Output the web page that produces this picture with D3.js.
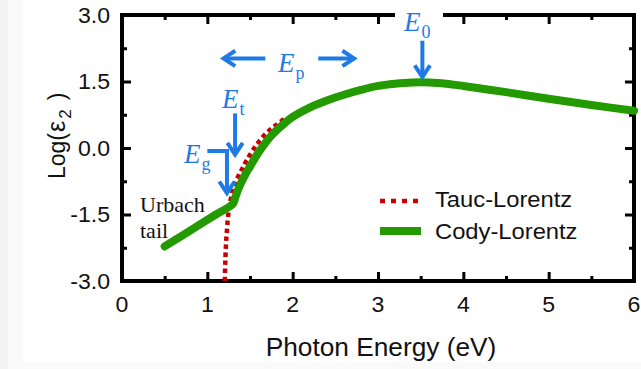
<!DOCTYPE html>
<html>
<head>
<meta charset="utf-8">
<script src="https://cdn.jsdelivr.net/npm/d3@7"></script>
<style>
  html, body { margin: 0; padding: 0; background: #f4f4f4; }
  svg { display: block; }
</style>
</head>
<body>
<svg id="chart" width="641" height="369"></svg>
<script>
// Cody-Lorentz model, log(eps2) vs photon energy (eV)
const energyCL = [0.5, 0.7, 0.9, 1.1, 1.3, 1.33, 1.38, 1.45, 1.5, 1.6, 1.75, 1.9, 2.0, 2.2, 2.4, 2.6, 2.8, 3.0, 3.2, 3.4, 3.6, 3.8, 4.0, 4.5, 5.0, 5.5, 6.0];
const logCL    = [-2.22, -1.98, -1.74, -1.5, -1.26, -1.1, -0.85, -0.58, -0.42, -0.1, 0.28, 0.55, 0.7, 0.91, 1.07, 1.2, 1.31, 1.4, 1.45, 1.48, 1.48, 1.45, 1.4, 1.26, 1.11, 0.97, 0.84];

// Tauc-Lorentz model (diverges below the gap)
const energyTL = [1.205, 1.21, 1.218, 1.23, 1.245, 1.27, 1.3, 1.33, 1.4, 1.46, 1.58, 1.7, 1.8, 1.9];
const logTL    = [-3.0, -2.6, -2.2, -1.85, -1.5, -1.2, -0.95, -0.77, -0.5, -0.28, 0.08, 0.35, 0.51, 0.65];

const seriesNames = ["Tauc-Lorentz", "Cody-Lorentz"];

const xMajor = [0, 1, 2, 3, 4, 5, 6];
const xMinor = [0.5, 1.5, 2.5, 3.5, 4.5, 5.5];
const yMajor = [-3.0, -1.5, 0.0, 1.5, 3.0];
const yMinor = [-2.25, -0.75, 0.75, 2.25];

const svg = d3.select("#chart");
const W = 641, H = 369;
const margin = { left: 122, right: 7, top: 15, bottom: 88 };

const BLUE = "#1f7ae6", GREEN = "#239a00", RED = "#c80000";
const SX = 1.05; // slight horizontal stretch of the lettering

// paper background
svg.append("rect").attr("x", 8).attr("y", 0).attr("width", W - 8).attr("height", H).attr("fill", "#fafafa");
svg.append("rect").attr("x", 23).attr("y", 0).attr("width", W - 23).attr("height", 362).attr("fill", "#ffffff");

const x = d3.scaleLinear().domain([0, 6]).range([margin.left, W - margin.right]);
const y = d3.scaleLinear().domain([-3, 3]).range([H - margin.bottom, margin.top]);

const x0 = x(0), x1 = x(6), yTop = y(3), yBot = y(-3);

// ticks (inward)
function tickAxis(gen, vals, size, tx, ty) {
  const g = svg.append("g").attr("transform", `translate(${tx},${ty})`)
    .call(gen.tickValues(vals).tickSize(-size).tickFormat(""));
  g.select(".domain").remove();
  g.selectAll(".tick line").attr("stroke", "#000").attr("stroke-width", 3);
  return g;
}
// top-frame gap where the E0 label sits
const gapL = 393, gapR = 445;
const topVals = v => v.filter(d => x(d) < gapL || x(d) > gapR);

tickAxis(d3.axisBottom(x), xMajor, 9, 0, yBot);
tickAxis(d3.axisBottom(x), xMinor, 5, 0, yBot);
tickAxis(d3.axisTop(x), topVals(xMajor), 9, 0, yTop);
tickAxis(d3.axisTop(x), topVals(xMinor), 5, 0, yTop);
tickAxis(d3.axisLeft(y), yMajor, 9, x0, 0);
tickAxis(d3.axisLeft(y), yMinor, 5, x0, 0);
tickAxis(d3.axisRight(y), yMajor, 9, x1, 0);
tickAxis(d3.axisRight(y), yMinor, 5, x1, 0);

// frame
const frame = svg.append("g").attr("stroke", "#000").attr("stroke-width", 4).attr("fill", "none").attr("stroke-linecap", "square");
frame.append("line").attr("x1", x0).attr("x2", x1).attr("y1", yBot).attr("y2", yBot);
frame.append("line").attr("x1", x0).attr("x2", x0).attr("y1", yTop).attr("y2", yBot);
frame.append("line").attr("x1", x1).attr("x2", x1).attr("y1", yTop).attr("y2", yBot);
frame.append("line").attr("x1", x0).attr("x2", gapL).attr("y1", yTop).attr("y2", yTop);
frame.append("line").attr("x1", gapR).attr("x2", x1).attr("y1", yTop).attr("y2", yTop);

// tick labels (plain hyphen for negatives)
const fmtY = v => d3.format(".1f")(v).replace("\u2212", "-");
xMajor.forEach(v => {
  svg.append("text").attr("transform", `translate(${x(v)},${yBot + 31}) scale(${SX},1)`)
    .attr("text-anchor", "middle").attr("font-family", "Liberation Sans, Arial, sans-serif")
    .attr("font-size", 22).attr("fill", "#111").text(v);
});
yMajor.forEach(v => {
  svg.append("text").attr("transform", `translate(${x0 - 12},${y(v) + 7.5}) scale(${SX},1)`)
    .attr("text-anchor", "end").attr("font-family", "Liberation Sans, Arial, sans-serif")
    .attr("font-size", 22).attr("fill", "#111").text(fmtY(v));
});

// axis titles
svg.append("text").attr("transform", `translate(${(x0 + x1) / 2 + 3},${yBot + 75}) scale(${SX},1)`)
  .attr("text-anchor", "middle").attr("font-family", "Liberation Sans, Arial, sans-serif")
  .attr("font-size", 25).attr("fill", "#111").text("Photon Energy (eV)");
const yt = svg.append("text").attr("transform", `translate(65,179) rotate(-90)`)
  .attr("text-anchor", "start").attr("font-family", "Liberation Sans, Arial, sans-serif")
  .attr("font-size", 23).attr("fill", "#111");
yt.append("tspan").text("Log(");
yt.append("tspan").attr("font-size", 25).attr("dx", 1).text("ε");
yt.append("tspan").attr("font-size", 17).attr("dx", 2).attr("dy", 6).text("2");
yt.append("tspan").attr("dx", 9).attr("dy", -6).text(")");

// curves
const line = d3.line().x(d => x(d[0])).y(d => y(d[1]));
const tl = d3.zip(energyTL, logTL);
const cl = d3.zip(energyCL, logCL);

svg.append("path").datum(tl).attr("d", line.curve(d3.curveCatmullRom.alpha(0.5))(tl))
  .attr("fill", "none").attr("stroke", RED).attr("stroke-width", 4.5).attr("stroke-dasharray", "4.5,3.5");
svg.append("path").datum(cl).attr("d", line.curve(d3.curveCatmullRom.alpha(0.5))(cl))
  .attr("fill", "none").attr("stroke", GREEN).attr("stroke-width", 8).attr("stroke-linecap", "round").attr("stroke-linejoin", "round");

// legend
const lg = svg.append("g");
lg.append("line").attr("x1", 380).attr("x2", 419).attr("y1", 201).attr("y2", 201)
  .attr("stroke", RED).attr("stroke-width", 4.5).attr("stroke-dasharray", "5,6");
lg.append("line").attr("x1", 380).attr("x2", 421).attr("y1", 231).attr("y2", 231)
  .attr("stroke", GREEN).attr("stroke-width", 8);
[[seriesNames[0], 207], [seriesNames[1], 239]].forEach(([t, by]) => {
  lg.append("text").attr("transform", `translate(435,${by}) scale(1.08,1)`)
    .attr("font-family", "Liberation Sans, Arial, sans-serif").attr("font-size", 22).attr("fill", "#111").text(t);
});

// "Urbach tail"
const ut = svg.append("text").attr("font-family", "Liberation Serif, Times New Roman, serif").attr("font-size", 22).attr("fill", "#111");
ut.append("tspan").attr("x", 140).attr("y", 212).text("Urbach");
ut.append("tspan").attr("x", 140).attr("y", 238).text("tail");

// annotation arrows
const ann = svg.append("g").attr("stroke", BLUE).attr("stroke-width", 4).attr("fill", "none")
  .attr("stroke-linecap", "butt").attr("stroke-linejoin", "miter");
function arrow(pts) {
  const p = pts.map(([e, v]) => [x(e), y(v)]);
  ann.append("path").attr("d", d3.line()(p));
  const [ax, ay] = p[p.length - 2], [bx, by] = p[p.length - 1];
  const ang = Math.atan2(by - ay, bx - ax), L = 14, spread = 0.58;
  const h1 = [bx - L * Math.cos(ang - spread), by - L * Math.sin(ang - spread)];
  const h2 = [bx - L * Math.cos(ang + spread), by - L * Math.sin(ang + spread)];
  ann.append("path").attr("d", d3.line()([h1, [bx, by], h2]));
}
arrow([[1.68, 2.02], [1.19, 2.02]]);     // Ep left
arrow([[2.3, 2.02], [2.72, 2.02]]);      // Ep right
arrow([[1.325, 0.78], [1.325, -0.15]]);  // Et
arrow([[1.0, -0.07], [1.23, -0.07], [1.23, -1.02]]); // Eg
arrow([[3.52, 2.42], [3.52, 1.6]]);      // E0

function eLabel(px, py, sub) {
  const t = svg.append("text").attr("x", px).attr("y", py)
    .attr("font-family", "Liberation Serif, Times New Roman, serif").attr("fill", BLUE);
  t.append("tspan").attr("font-style", "italic").attr("font-size", 27).text("E");
  t.append("tspan").attr("font-size", 18).attr("dx", 1).attr("dy", 7).text(sub);
}
eLabel(278, 72, "p");
eLabel(222, 108, "t");
eLabel(184, 163, "g");
eLabel(404, 31, "0");
</script>
</body>
</html>
